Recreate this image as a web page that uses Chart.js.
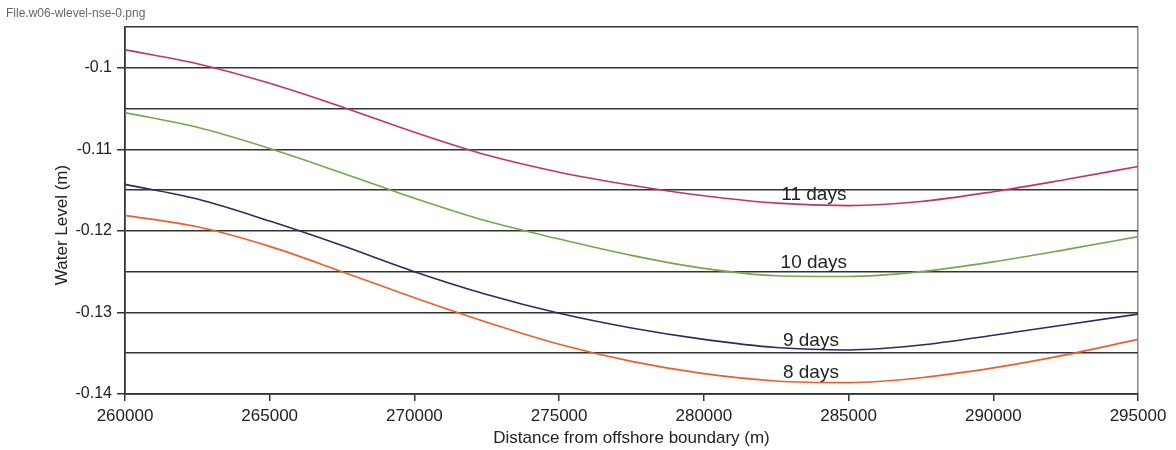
<!DOCTYPE html>
<html>
<head>
<meta charset="utf-8">
<script src="https://cdn.jsdelivr.net/npm/chart.js@4/dist/chart.umd.min.js"></script>
<style>
  html, body { margin: 0; padding: 0; background: #ffffff; }
  #wrap { width: 1176px; height: 450px; }
</style>
</head>
<body>
<div id="wrap"><canvas id="chart" width="1176" height="450"></canvas></div>
<script>
// Distance from the offshore boundary (m)
const distance = [260000, 262500, 265000, 267500, 270000, 272500, 275000, 277500,
                  280000, 282500, 285000, 287500, 290000, 292500, 295000];

// Water level (m) along the section after 8, 9, 10 and 11 days
const level8  = [-0.1181, -0.1195, -0.1219, -0.1250, -0.1282, -0.1312, -0.1339, -0.1360,
                 -0.1375, -0.1384, -0.1386, -0.1380, -0.1368, -0.1352, -0.1333];
const level9  = [-0.1143, -0.1161, -0.1188, -0.1218, -0.1250, -0.1278, -0.1301, -0.1319,
                 -0.1333, -0.1343, -0.1346, -0.1340, -0.1328, -0.1315, -0.1302];
const level10 = [-0.1055, -0.1073, -0.1099, -0.1129, -0.1160, -0.1188, -0.1210, -0.1230,
                 -0.1246, -0.1255, -0.1256, -0.1250, -0.1238, -0.1223, -0.1207];
const level11 = [-0.0978, -0.0995, -0.1019, -0.1048, -0.1079, -0.1107, -0.1128, -0.1144,
                 -0.1157, -0.1166, -0.1169, -0.1164, -0.1152, -0.1137, -0.1121];

// Curve names, and where each name is written (distance, level of its baseline)
const curveNames = ['8 days', '9 days', '10 days', '11 days'];
const nameDistance = [283700, 283700, 283800, 283800];
const nameLevel = [-0.1380, -0.1341, -0.1246, -0.1162];

// Axis ticks
const xTicks = [260000, 265000, 270000, 275000, 280000, 285000, 290000, 295000];
const yTickLabels = [-0.1, -0.11, -0.12, -0.13, -0.14];

const FONT = "'Liberation Sans', Arial, Helvetica, sans-serif";
const GRID = '#333333';

function series(values) {
  return distance.map((d, i) => ({ x: d, y: values[i] }));
}

function isLabelled(v) {
  return yTickLabels.some(t => Math.abs(t - v) < 1e-7);
}

// Writes the file name, the vertical axis title and the curve names
const annotations = {
  id: 'annotations',
  afterDatasetsDraw(chart) {
    const { ctx, scales } = chart;
    ctx.save();
    ctx.fillStyle = '#666666';
    ctx.font = '12px ' + FONT;
    ctx.textAlign = 'left';
    ctx.textBaseline = 'middle';
    ctx.fillText('File.w06-wlevel-nse-0.png', 6, 14);

    ctx.fillStyle = '#222222';
    ctx.font = '19px ' + FONT;
    ctx.textAlign = 'center';
    ctx.textBaseline = 'alphabetic';
    curveNames.forEach((name, i) => {
      ctx.fillText(name, scales.x.getPixelForValue(nameDistance[i]),
                         scales.y.getPixelForValue(nameLevel[i]));
    });

    ctx.translate(62, 225);
    ctx.rotate(-Math.PI / 2);
    ctx.font = '17px ' + FONT;
    ctx.textBaseline = 'middle';
    ctx.fillStyle = '#222222';
    ctx.fillText('Water Level (m)', 0, 0);
    ctx.restore();
  }
};

const lineStyle = { borderWidth: 1.6, pointRadius: 0, cubicInterpolationMode: 'monotone', fill: false };

new Chart(document.getElementById('chart'), {
  type: 'line',
  data: {
    datasets: [
      Object.assign({ label: curveNames[0], data: series(level8),  borderColor: '#e8602c' }, lineStyle),
      Object.assign({ label: curveNames[1], data: series(level9),  borderColor: '#2b2b5c' }, lineStyle),
      Object.assign({ label: curveNames[2], data: series(level10), borderColor: '#74a84c' }, lineStyle),
      Object.assign({ label: curveNames[3], data: series(level11), borderColor: '#c2336c' }, lineStyle)
    ]
  },
  options: {
    responsive: false,
    devicePixelRatio: 1,
    animation: false,
    layout: { padding: { top: 27, right: 38, left: 0, bottom: 0 } },
    plugins: {
      legend: { display: false },
      tooltip: { enabled: false },
      title: { display: false }
    },
    scales: {
      x: {
        type: 'linear',
        min: xTicks[0],
        max: xTicks[xTicks.length - 1],
        afterFit(scale) { scale.height = 56; },
        afterBuildTicks(scale) { scale.ticks = xTicks.map(v => ({ value: v })); },
        ticks: {
          color: '#222222',
          font: { family: FONT, size: 17 },
          padding: 5,
          maxRotation: 0,
          autoSkip: false,
          callback: v => String(v)
        },
        grid: {
          drawOnChartArea: true,
          color: c => (c.tick && c.tick.value === xTicks[xTicks.length - 1]) ? '#8a8a8a' : 'rgba(0,0,0,0)',
          tickColor: GRID,
          tickLength: 7,
          lineWidth: 1.5
        },
        border: { display: true, color: GRID, width: 1.8 },
        title: {
          display: true,
          text: 'Distance from offshore boundary (m)',
          color: '#222222',
          font: { family: FONT, size: 17 },
          padding: { top: 0, bottom: 1 }
        }
      },
      y: {
        type: 'linear',
        min: -0.14,
        max: -0.095,
        afterFit(scale) { scale.width = 125; },
        ticks: {
          stepSize: 0.005,
          color: '#222222',
          font: { family: FONT, size: 16 },
          padding: 5,
          autoSkip: false,
          callback: v => isLabelled(v) ? String(yTickLabels.find(t => Math.abs(t - v) < 1e-7)) : ''
        },
        grid: {
          color: GRID,
          lineWidth: 1.5,
          tickLength: 8,
          tickColor: c => (c.tick && isLabelled(c.tick.value)) ? GRID : 'rgba(0,0,0,0)'
        },
        border: { display: true, color: GRID, width: 1.8 }
      }
    }
  },
  plugins: [annotations]
});
</script>
</body>
</html>
